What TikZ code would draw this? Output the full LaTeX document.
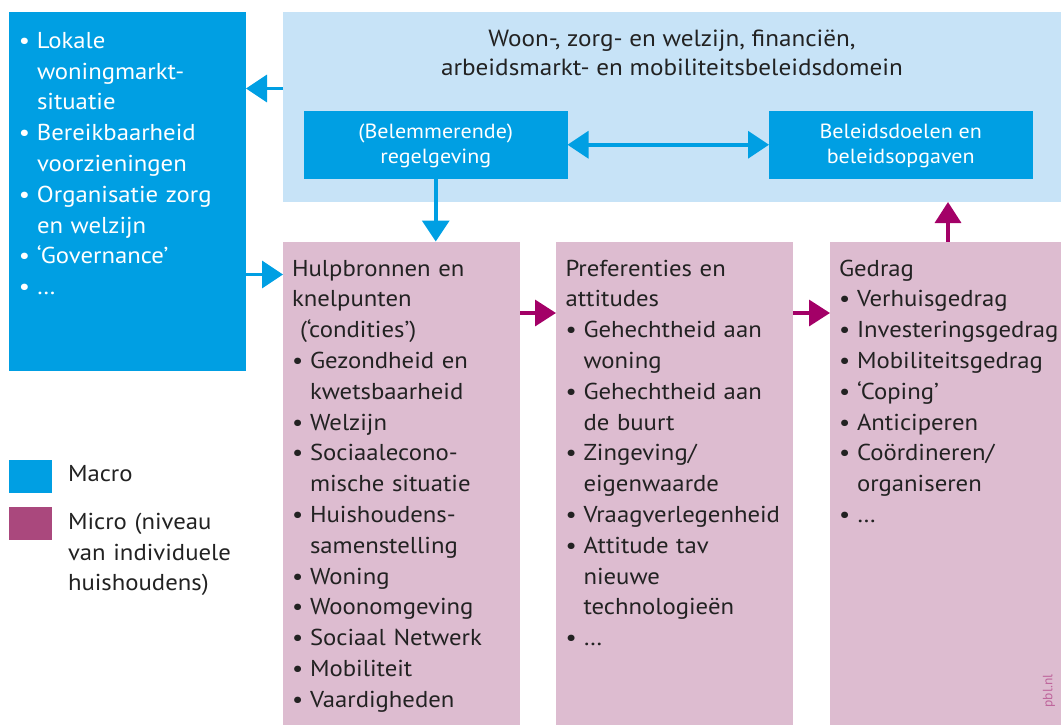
\documentclass[tikz,border=0pt]{standalone}
\usepackage{fontspec}
\setmainfont[FakeStretch=1.075]{PT Sans}
\newfontfamily\creditfont{PT Sans}
\usetikzlibrary{arrows.meta}

\definecolor{macroblue}{RGB}{0,159,227}
\definecolor{domainblue}{RGB}{199,227,247}
\definecolor{micropink}{RGB}{221,188,208}
\definecolor{microdark}{RGB}{170,72,125}
\definecolor{arrowmag}{RGB}{163,0,103}
\definecolor{ink}{RGB}{34,34,34}
\definecolor{credit}{RGB}{190,100,155}

\newcommand\bodyfont{\fontsize{23}{30.8}\selectfont}
\newcommand\itm[1]{\makebox[18pt][l]{\textbullet}#1}
\newcommand\cnt[1]{\hspace*{18pt}#1}

\begin{document}
\begin{tikzpicture}[x=1pt,y=-1pt,
  panel/.style={anchor=north west, inner sep=0, outer sep=0, draw=none},
  txt/.style={anchor=base west, inner sep=0, outer sep=0, align=left,
              text width=260pt, font=\bodyfont, text=ink},
  boxtxt/.style={anchor=base, inner sep=0, align=center, text=white,
              font=\fontsize{20.5}{25}\selectfont},
  bluearrow/.style={draw=macroblue, line width=3.5pt,
              -{Triangle[length=21pt,width=27pt]}},
  magarrow/.style={draw=arrowmag, line width=3.5pt,
              -{Triangle[length=21pt,width=26pt]}}]
\useasboundingbox (0,0) rectangle (1061,724);

% panels
\node[panel, fill=macroblue, minimum width=237pt, minimum height=359pt] (lbox) at (9,12) {};
\node[panel, fill=domainblue, minimum width=778pt, minimum height=190pt] (domain) at (283,12) {};
\node[panel, fill=macroblue, minimum width=263.5pt, minimum height=67.5pt] (regel) at (304,111) {};
\node[panel, fill=macroblue, minimum width=263.5pt, minimum height=67.5pt] (doelen) at (769,111) {};
\node[panel, fill=micropink, minimum width=237pt, minimum height=483pt] (hulp) at (283,241.5) {};
\node[panel, fill=micropink, minimum width=237pt, minimum height=483pt] (pref) at (556,241.5) {};
\node[panel, fill=micropink, minimum width=231pt, minimum height=483pt] (gedrag) at (830,241.5) {};

% legend swatches
\node[panel, fill=macroblue, minimum width=43pt, minimum height=33pt] (legmacro) at (9,460) {};
\node[panel, fill=microdark, minimum width=43pt, minimum height=32.5pt] (legmicro) at (9,507) {};

% texts (base anchors of centred blocks sit on their last line)
\node[txt, text=white] (ltext) at (19,48.3) {\itm{Lokale}\\ \cnt{woningmarkt-}\\ \cnt{situatie}\\
  \itm{Bereikbaarheid}\\ \cnt{voorzieningen}\\ \itm{Organisatie zorg}\\ \cnt{en welzijn}\\
  \itm{‘Governance’}\\ \itm{…}};

\node[anchor=base, inner sep=0, align=center, text=ink,
      font=\fontsize{23.4}{29.5}\selectfont] (title) at (672,75.5)
  {Woon-, zorg- en welzijn, financiën,\\ arbeidsmarkt- en mobiliteitsbeleidsdomein};

\node[boxtxt] (regeltxt) at (435.75,163.3) {(Belemmerende)\\ regelgeving};
\node[boxtxt] (doelentxt) at (900.75,163.3) {Beleidsdoelen en\\ beleidsopgaven};

\node[txt] (hulptext) at (292,276) {Hulpbronnen en\\ knelpunten\\ \hspace*{8pt}(‘condities’)\\
  \itm{Gezondheid en}\\ \cnt{kwetsbaarheid}\\ \itm{Welzijn}\\ \itm{Sociaalecono-}\\
  \cnt{mische situatie}\\ \itm{Huishoudens-}\\ \cnt{samenstelling}\\ \itm{Woning}\\
  \itm{Woonomgeving}\\ \itm{Sociaal Netwerk}\\ \itm{Mobiliteit}\\ \itm{Vaardigheden}};

\node[txt] (preftext) at (565.5,276) {Preferenties en\\ attitudes\\ \itm{Gehechtheid aan}\\
  \cnt{woning}\\ \itm{Gehechtheid aan}\\ \cnt{de buurt}\\ \itm{Zingeving/}\\ \cnt{eigenwaarde}\\
  \itm{Vraagverlegenheid}\\ \itm{Attitude tav}\\ \cnt{nieuwe}\\ \cnt{technologieën}\\ \itm{…}};

\node[txt] (gedragtext) at (839,276) {Gedrag\\ \itm{Verhuisgedrag}\\ \itm{Investeringsgedrag}\\
  \itm{Mobiliteitsgedrag}\\ \itm{‘Coping’}\\ \itm{Anticiperen}\\ \itm{Coördineren/}\\
  \cnt{organiseren}\\ \itm{…}};

\node[txt] (macrotxt) at (68,481.7) {Macro};
\node[txt] (microtxt) at (68,529.3) {Micro (niveau\\ van individuele\\ huishoudens)};

\node[inner sep=0, rotate=90, text=credit, font=\creditfont\fontsize{13.5}{13.5}\selectfont] (pbl) at (1049,691) {pbl.nl};

% connectors
\coordinate (yback) at (0,88.5);
\coordinate (yin) at (0,274.5);
\coordinate (yflow) at (0,313);
\coordinate (xup) at (948,0);

\draw[bluearrow] (domain.west |- yback) -- (lbox.east |- yback);
\draw[bluearrow] (lbox.east |- yin) -- (hulp.west |- yin);
\draw[bluearrow] (regel.south) -- (regel.south |- hulp.north);
\draw[bluearrow, {Triangle[length=21pt,width=27pt]}-{Triangle[length=21pt,width=27pt]}] (regel.east) -- (doelen.west);
\draw[magarrow] (hulp.east |- yflow) -- (pref.west |- yflow);
\draw[magarrow] (pref.east |- yflow) -- (gedrag.west |- yflow);
\draw[magarrow] (gedrag.north -| xup) -- (domain.south -| xup);
\end{tikzpicture}
\end{document}
